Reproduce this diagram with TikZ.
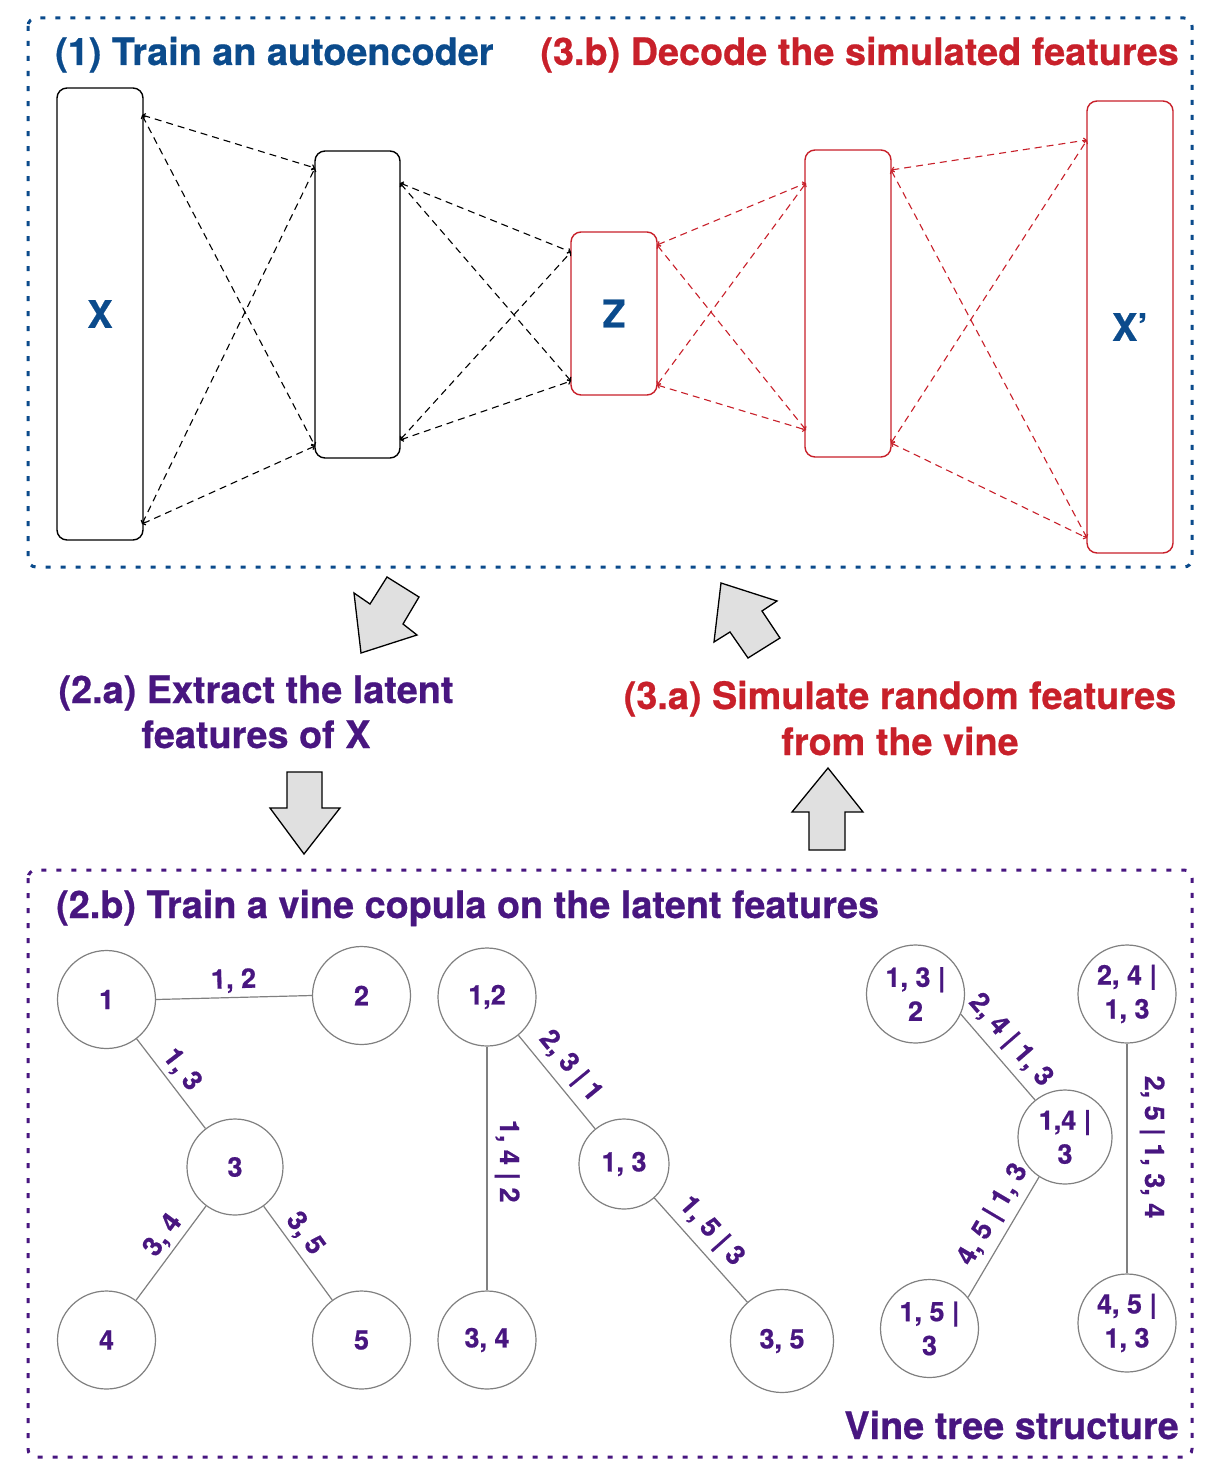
\documentclass[tikz,border=0pt]{standalone}
\usepackage{fontspec}
\setmainfont{TeX Gyre Heros}[BoldFeatures={FakeBold=0.6}]
\usetikzlibrary{arrows.meta}
\definecolor{aeblue}{RGB}{11,75,140}
\definecolor{aered}{RGB}{200,32,42}
\definecolor{aepurple}{RGB}{72,22,128}
\definecolor{circgray}{RGB}{128,128,128}
\definecolor{arrowfill}{RGB}{224,224,224}
\begin{document}
\begin{tikzpicture}[x=1pt,y=-1pt,
  title/.style={font=\fontsize{37.8}{45}\selectfont\bfseries, inner sep=0pt},
  layer/.style={draw, line width=1.4pt, rounded corners=10pt, inner sep=0pt,
    font=\fontsize{38}{45}\selectfont\bfseries, text=aeblue},
  conn/.style={line width=1.1pt, dash pattern=on 7pt off 5pt,
    {Straight Barb[length=2.5pt,width=5pt]}-{Straight Barb[length=2.5pt,width=5pt]}},
  framebox/.style={line width=3pt, dash pattern=on 5pt off 10pt, rounded corners=8pt},
  blockarrow/.style={draw=black, fill=arrowfill, line width=1.3pt, line join=miter},
  vnode/.style={circle, draw=circgray, line width=1.2pt, text=aepurple,
    font=\fontsize{27}{34}\selectfont\bfseries, align=center, inner sep=0pt, minimum size=98pt},
  vedge/.style={draw=circgray, line width=1.2pt},
  elab/.style={sloped, above=1pt, text=aepurple, font=\fontsize{27}{30}\selectfont\bfseries, inner sep=3pt},
  elabb/.style={elab, above=3pt}
]
\fill[white] (0,0) rectangle (1224,1480);
\useasboundingbox (0,0) rectangle (1224,1480);

% frames
\draw[framebox, aeblue] (28,18) rectangle (1192,567);
\draw[framebox, aepurple] (28,870) rectangle (1192,1457);

% titles
\node[title, text=aeblue, anchor=base west] (t1) at (55,65) {(1) Train an autoencoder};
\node[title, text=aered, anchor=base east] (t3b) at (1179,65) {(3.b) Decode the simulated features};
\node[title, text=aepurple, anchor=base] (t2a1) at (256,703) {(2.a) Extract the latent};
\node[title, text=aepurple, anchor=base] (t2a2) at (256,748) {features of X};
\node[title, text=aered, anchor=base] (t3a1) at (900,709) {(3.a) Simulate random features};
\node[title, text=aered, anchor=base] (t3a2) at (900,755) {from the vine};
\node[title, text=aepurple, anchor=base west] (t2b) at (56,918) {(2.b) Train a vine copula on the latent features};
\node[title, text=aepurple, anchor=base east] (tv) at (1179,1439) {Vine tree structure};

% autoencoder layers
\node[layer, draw=black, minimum width=86pt, minimum height=452pt] (bx) at (100,314) {X};
\node[layer, draw=black, minimum width=85pt, minimum height=307pt] (b2) at (357.5,304.5) {};
\node[layer, draw=aered, minimum width=86pt, minimum height=163pt] (bz) at (614,313.5) {Z};
\node[layer, draw=aered, minimum width=86pt, minimum height=307pt] (b4) at (848,303.5) {};
\node[layer, draw=aered, minimum width=86pt, minimum height=452pt] (bxp) at (1130,327) {X’};

% connection points
\coordinate (p1u) at (142,115);  \coordinate (p1l) at (142,524);
\coordinate (p2lu) at (315,168); \coordinate (p2ll) at (315,446);
\coordinate (p2ru) at (400,183); \coordinate (p2rl) at (400,440);
\coordinate (pzlu) at (571,252); \coordinate (pzll) at (571,381);
\coordinate (pzru) at (657,245); \coordinate (pzrl) at (657,385);
\coordinate (p4lu) at (806,183); \coordinate (p4ll) at (806,430);
\coordinate (p4ru) at (891,170); \coordinate (p4rl) at (891,443);
\coordinate (pxlu) at (1087,140); \coordinate (pxll) at (1087,538);

\foreach \a/\b/\c in {p1u/p2lu/black, p1u/p2ll/black, p1l/p2lu/black, p1l/p2ll/black,
  p2ru/pzlu/black, p2ru/pzll/black, p2rl/pzlu/black, p2rl/pzll/black,
  pzru/p4lu/aered, pzru/p4ll/aered, pzrl/p4lu/aered, pzrl/p4ll/aered,
  p4ru/pxlu/aered, p4ru/pxll/aered, p4rl/pxlu/aered, p4rl/pxll/aered}
  \draw[conn, draw=\c] (\a) -- (\b);

% block arrows
\draw[blockarrow] (387,577) -- (419,597) -- (403,624) -- (417,635) -- (361,653) -- (354,593) -- (370,604) -- cycle;
\draw[blockarrow] (721,583) -- (777,601) -- (762,611) -- (780,638) -- (748,658) -- (730,632) -- (714,642) -- cycle;
\draw[blockarrow] (287,772) -- (322,772) -- (322,808) -- (340,808) -- (304,854) -- (270,808) -- (287,808) -- cycle;
\draw[blockarrow] (828,768) -- (863,812) -- (845,812) -- (845,850) -- (809,850) -- (809,812) -- (792,812) -- cycle;

% vine tree 1
\node[vnode] (v1) at (106.5,999.5) {1};
\node[vnode] (v2) at (361.5,995.5) {2};
\node[vnode, minimum size=96pt] (v3) at (235,1167) {3};
\node[vnode] (v4) at (106.5,1340) {4};
\node[vnode] (v5) at (361.5,1340) {5};
\draw[vedge] (v1.0) -- node[elab, above=0pt]{1, 2} (v2.180);
\draw[vedge] (v1) -- node[elab, pos=0.46]{1, 3} (v3);
\draw[vedge] (v3) -- node[elab, pos=0.42]{3, 4} (v4);
\draw[vedge] (v3) -- node[elab, pos=0.4]{3, 5} (v5);

% vine tree 2
\node[vnode] (w12) at (487,997) {1,2};
\node[vnode, minimum size=90pt] (w13) at (624,1164) {1, 3};
\node[vnode] (w34) at (487,1340) {3, 4};
\node[vnode, minimum size=103pt] (w35) at (782,1341) {3, 5};
\draw[vedge] (w12) -- node[elabb, pos=0.47]{1, 4 | 2} (w34);
\draw[vedge] (w12) -- node[elabb, pos=0.47]{2, 3 | 1} (w13);
\draw[vedge] (w13) -- node[elabb, pos=0.45]{1, 5 | 3} (w35);

% vine tree 3
\node[vnode] (u132) at (915.5,994) {1, 3 |\\2};
\node[vnode] (u2413) at (1127,994) {2, 4 |\\1, 3};
\node[vnode, minimum size=94pt] (u143) at (1065,1137) {1,4 |\\3};
\node[vnode] (u153) at (929.5,1328.5) {1, 5 |\\3};
\node[vnode] (u4513) at (1127,1323) {4, 5 |\\1, 3};
\draw[vedge] (u132.-24) -- node[elabb, pos=0.46]{2, 4 | 1, 3} (u143.129);
\draw[vedge] (u143.-123) -- node[elabb, pos=0.4]{4, 5 | 1, 3} (u153.39);
\draw[vedge] (u2413) -- node[elabb, above=5pt, pos=0.45]{2, 5 | 1, 3, 4} (u4513);
\end{tikzpicture}
\end{document}
